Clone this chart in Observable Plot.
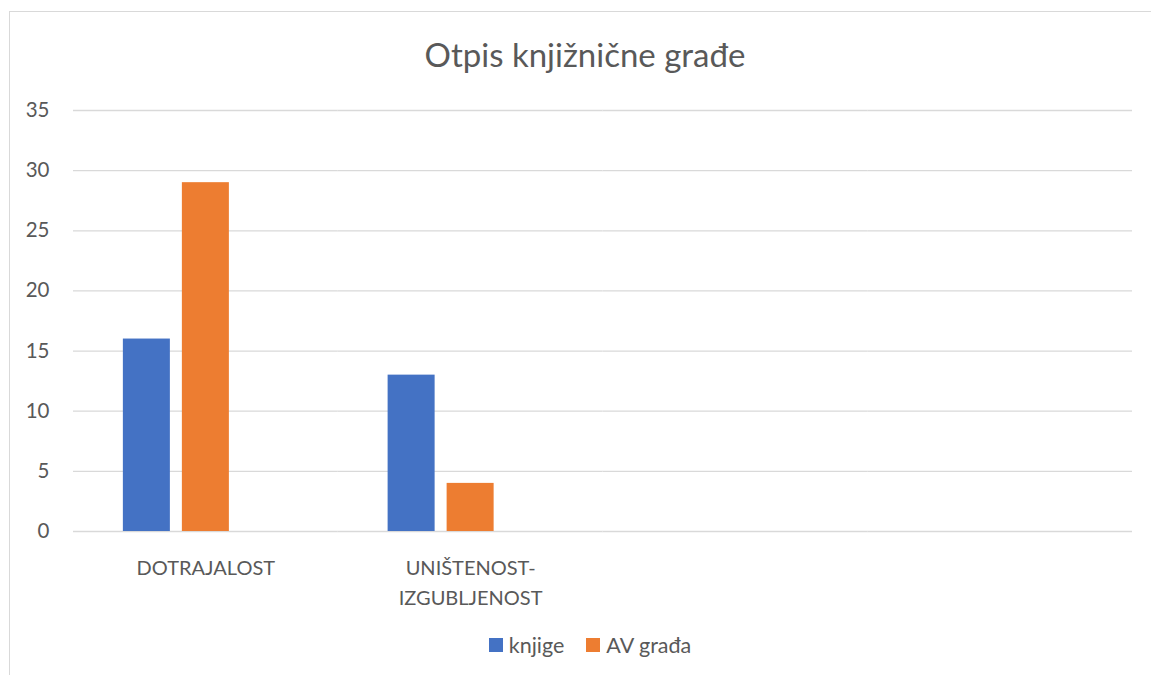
<!DOCTYPE html>
<html>
<head>
<meta charset="utf-8">
<script src="https://cdn.jsdelivr.net/npm/d3@7"></script>
<script src="https://cdn.jsdelivr.net/npm/@observablehq/plot@0.6"></script>
<style>
  html, body { margin: 0; padding: 0; background: #fff; width: 1151px; height: 675px; overflow: hidden; }
  body { position: relative; font-family: Lato, "Open Sans", sans-serif; color: #595959; }
  #frame { position: absolute; left: 9px; top: 11px; width: 1160px; height: 700px; border: 1px solid #d9d9d9; box-sizing: border-box; }
  #title { position: absolute; left: 0; top: 34px; width: 1170px; text-align: center; font-size: 33px; line-height: 40px; }
  #chart { position: absolute; left: 0; top: 90px; }
  #legend { position: absolute; left: 0; top: 631px; width: 1180px; display: flex; justify-content: center; gap: 22px; font-size: 21.5px; line-height: 28px; }
  .item { display: flex; align-items: center; gap: 6px; }
  .sw { width: 14px; height: 14px; display: inline-block; }
</style>
</head>
<body>
<div id="frame"></div>
<div id="title"></div>
<div id="chart"></div>
<div id="legend"></div>
<script>
const title = "Otpis knjižnične građe";
const categoryKeys = ["c1", "c2", "c3", "c4"];
const categoryLabels = ["DOTRAJALOST", "UNIŠTENOST-\nIZGUBLJENOST", "", ""];
const series = ["knjige", "AV građa", "serija3"];
const legendSeries = ["knjige", "AV građa"];
const knjige = [16, 13, null, null];
const avGrada = [29, 4, null, null];
const serija3 = [null, null, null, null];
const colors = ["#4472C4", "#ED7D31", "#A5A5A5"];
const yTicks = [0, 5, 10, 15, 20, 25, 30, 35];

document.getElementById("title").textContent = title;

const values = [knjige, avGrada, serija3];
const data = [];
series.forEach((s, si) => {
  categoryKeys.forEach((c, ci) => {
    if (values[si][ci] != null) data.push({category: c, series: s, value: values[si][ci]});
  });
});
const labelData = categoryKeys.map((k, i) => ({category: k, label: categoryLabels[i]}));

const chart = Plot.plot({
  width: 1151,
  height: 530,
  marginTop: 20,
  marginBottom: 89,
  marginLeft: 73,
  marginRight: 19,
  style: {fontFamily: "Lato, 'Open Sans', sans-serif", fontSize: "20px", color: "#595959", background: "transparent"},
  fx: {domain: categoryKeys, paddingInner: 0, paddingOuter: 0, axis: null, round: false},
  x: {domain: series, paddingInner: 0.2034, paddingOuter: 0.845, axis: null, round: false},
  y: {domain: [0, 35], ticks: yTicks, label: null},
  color: {domain: series, range: colors},
  marks: [
    Plot.ruleY(yTicks, {stroke: "#d9d9d9", strokeWidth: 1.3}),
    Plot.barY(data, {fx: "category", x: "series", y: "value", fill: "series"}),
    Plot.axisY({ticks: yTicks, tickSize: 0, tickPadding: 24, fontSize: 20.5, fill: "#595959", label: null}),
    Plot.text(labelData, {fx: "category", text: "label", frameAnchor: "bottom", lineAnchor: "top", dy: 22, lineHeight: 1.5, fontSize: 20, fill: "#595959"})
  ]
});
document.getElementById("chart").appendChild(chart);

const legend = document.getElementById("legend");
legendSeries.forEach((s, i) => {
  const item = document.createElement("div");
  item.className = "item";
  const sw = document.createElement("span");
  sw.className = "sw";
  sw.style.background = colors[i];
  const t = document.createElement("span");
  t.textContent = s;
  item.appendChild(sw);
  item.appendChild(t);
  legend.appendChild(item);
});
</script>
</body>
</html>
